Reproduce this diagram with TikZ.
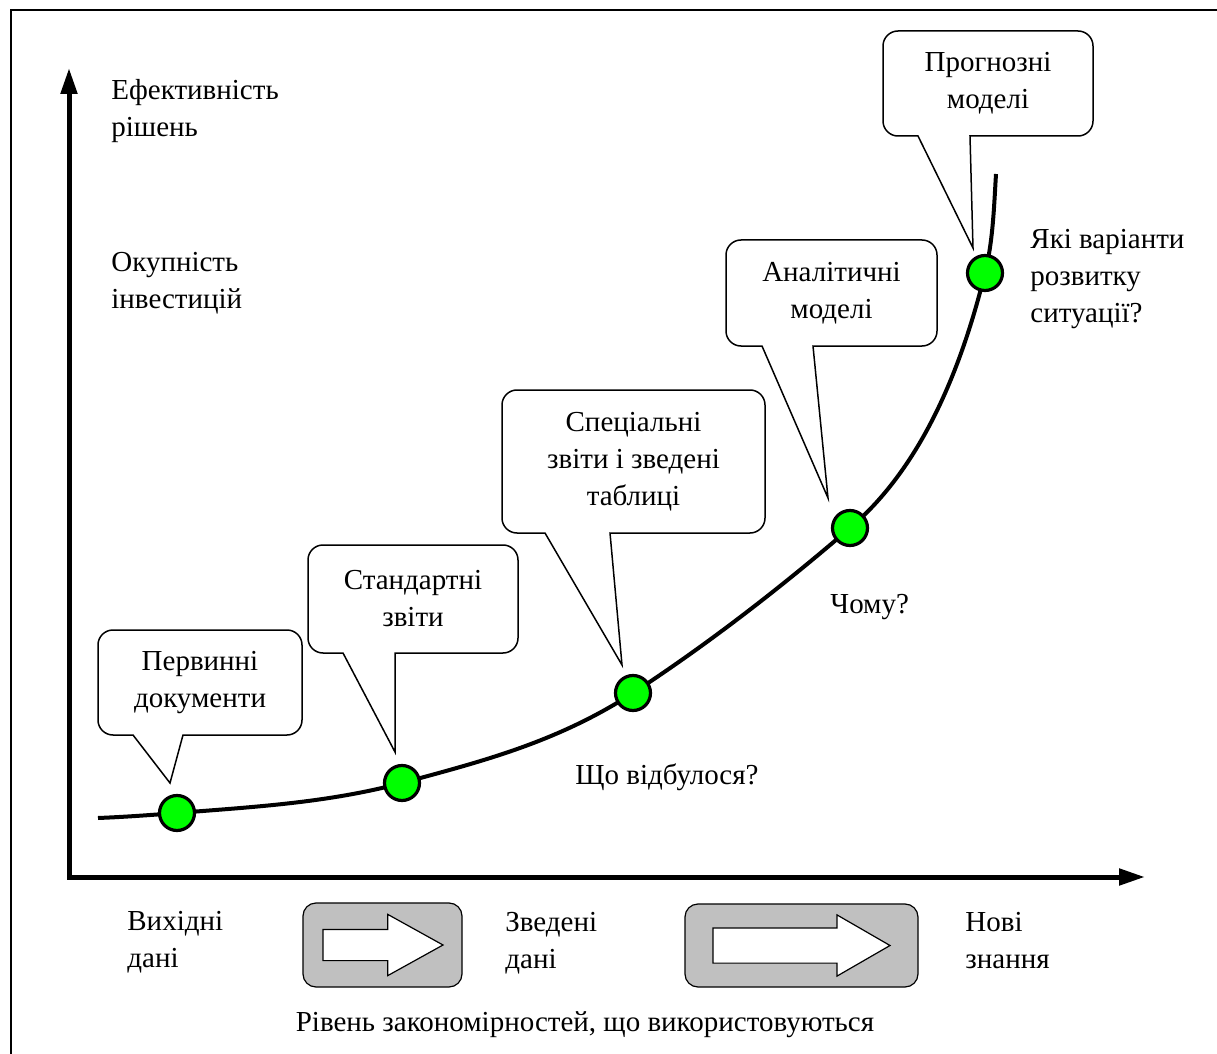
\documentclass[tikz,border=0pt]{standalone}
\usepackage{fontspec}
\setmainfont{Liberation Serif}
\usepackage{tikz}
\usetikzlibrary{positioning,
				arrows.meta,
				shapes.arrows}

\definecolor{dotgreen}{HTML}{00FF00}
\definecolor{boxgrey}{HTML}{C0C0C0}

\begin{document}
\begin{tikzpicture}[x=0.5pt, y=-0.5pt,
		every node/.style={font=\fontsize{14.5}{18.5}\selectfont},
		lbl/.style={align=left, anchor=base west, inner sep=0},
		axis/.style={line width=2.5pt, {Triangle[length=13pt,width=8pt]}-{Triangle[length=13pt,width=8pt]}},
		curve/.style={line width=2pt},
		dot/.style={circle, draw, line width=1.6pt, fill=dotgreen, minimum size=17.5pt, inner sep=0},
		bubble/.style={draw, fill=white, line width=0.75pt},
		bubbletext/.style={align=center, inner sep=0},
		greybox/.style={draw, fill=boxgrey, rounded corners=6.5pt, line width=0.6pt, inner sep=0},
		hollow/.style={single arrow, draw, fill=white, line width=0.6pt, inner xsep=0, minimum width=30pt}
	]
		\useasboundingbox (0,0) rectangle (1217,1054);
		\clip (0,0) rectangle (1217,1054);
		\draw[line width=1pt] (11,10) rectangle (1260,1100);

		\coordinate (o) at (69,877);
		\coordinate (ytop) at (69,68);
		\coordinate (xend) at (1145,877);
		\draw[axis] (ytop) -- (o) -- (xend);

		\foreach \name/\xl/\yt/\xr/\yb/\pl/\pr/\tx/\ty/\txt in {
			prim/98/630/302/735/133/183/170/783/{Первинні\\документи},
			stand/308/545/518/653/343/395/395/752/{Стандартні\\звіти},
			spec/502/390/765/533/545/610/622/665/{Спеціальні\\звіти і зведені\\таблиці},
			anal/726/240/937/346/762/813/828/498/{Аналітичні\\моделі},
			progn/883/31/1093/136/918/970/973/248/{Прогнозні\\моделі}}
		{
			\draw[bubble] (\tx,\ty) -- (\pr,\yb) [rounded corners=7.5pt] -- (\xr,\yb) -- (\xr,\yt) -- (\xl,\yt) -- (\xl,\yb) [sharp corners] -- (\pl,\yb) -- cycle;
			\node[bubbletext] (\name) at ({(\xl+\xr)/2},{(\yt+\yb)/2}) {\txt};
		}

		\coordinate (c0) at (98,818);
		\coordinate (p1) at (177,813);
		\coordinate (p2) at (402,783);
		\coordinate (p3) at (633,693);
		\coordinate (p4) at (850,528);
		\coordinate (p5) at (985,273);
		\coordinate (c6) at (996,174);
		\draw[curve] (c0) .. controls (124,817) and (151,815) .. (p1)
			.. controls (252,807) and (327,803) .. (p2)
			.. controls (479,762) and (556,743) .. (p3)
			.. controls (705,646) and (778,590) .. (p4)
			.. controls (923,466) and (962,366) .. (p5)
			.. controls (993,241) and (994,207) .. (c6);
		\foreach \p in {1,...,5}
			\node[dot] (dot\p) at (p\p) {};

		\node[lbl] (eff) at (111,137) {Ефективність\\рішень};
		\node[lbl] (okup) at (111,308) {Окупність\\інвестицій};
		\node[lbl] (var) at (1030,322) {Які варіанти\\розвитку\\ситуації?};
		\node[lbl] (chomu) at (830,613) {Чому?};
		\node[lbl] (shcho) at (575,784) {Що відбулося?};

		\node[lbl] (vyh) at (127,967) {Вихідні\\дані};
		\node[lbl] (zved) at (505,968) {Зведені\\дані};
		\node[lbl] (novi) at (965,968) {Нові\\знання};
		\node[anchor=base, inner sep=0] (riven) at (585,1031) {Рівень закономірностей, що використовуються};

		\node[greybox, minimum width=79.5pt, minimum height=42pt] (gb1) at (382.5,945) {};
		\node[greybox, minimum width=116.5pt, minimum height=41.5pt] (gb2) at (801.5,945.5) {};
		\node[hollow, minimum height=60pt, inner ysep=7.5pt, single arrow head extend=7.5pt, single arrow tip angle=58, right=10pt of gb1.west, anchor=tail] (ar1) {};
		\node[hollow, minimum height=88.5pt, inner ysep=8.5pt, single arrow head extend=6.5pt, single arrow tip angle=60, right=14pt of gb2.west, anchor=tail] (ar2) {};
\end{tikzpicture}
\end{document}
